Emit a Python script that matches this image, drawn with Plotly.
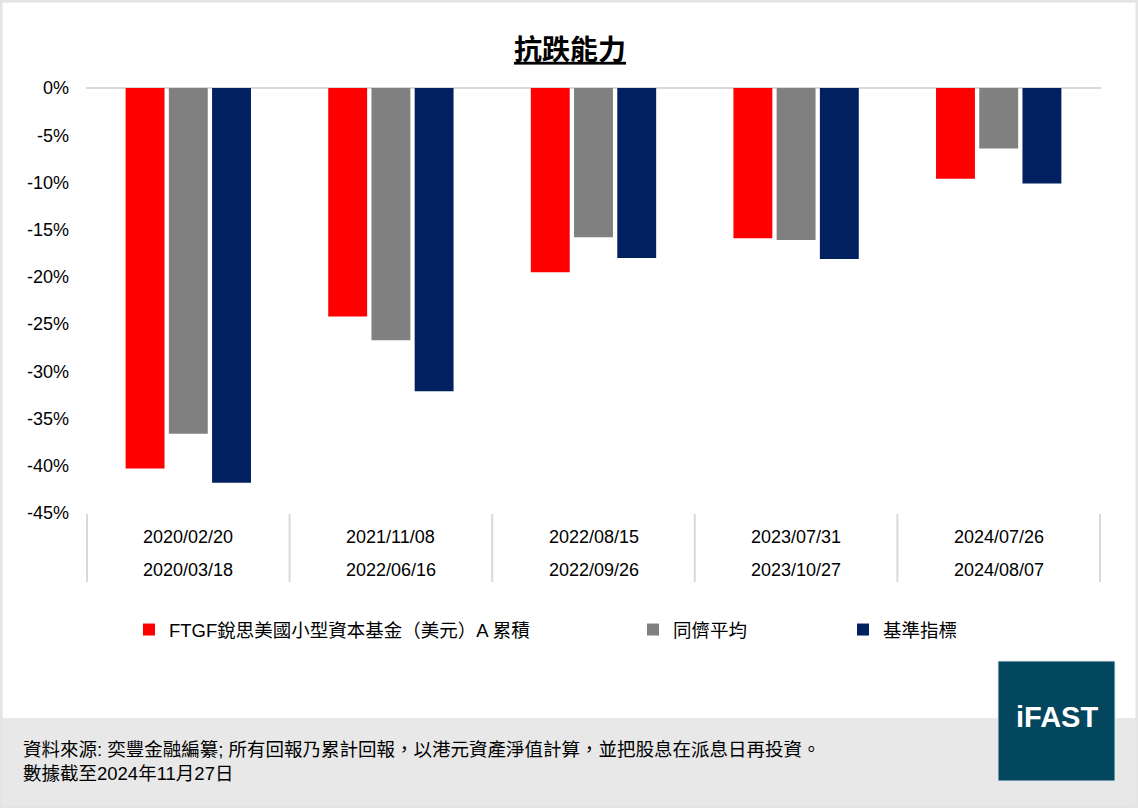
import plotly.graph_objects as go

# ---- data ----
start_dates = ["2020/02/20", "2021/11/08", "2022/08/15", "2023/07/31", "2024/07/26"]
end_dates = ["2020/03/18", "2022/06/16", "2022/09/26", "2023/10/27", "2024/08/07"]
fund_name = "FTGF銳思美國小型資本基金（美元）A 累積"
peer_name = "同儕平均"
bench_name = "基準指標"
fund_vals = [-40.3, -24.2, -19.5, -15.9, -9.6]
peer_vals = [-36.6, -26.7, -15.8, -16.1, -6.4]
bench_vals = [-41.8, -32.1, -18.0, -18.1, -10.1]
y_ticks = [0, -5, -10, -15, -20, -25, -30, -35, -40, -45]
y_tick_labels = ["0%", "-5%", "-10%", "-15%", "-20%", "-25%", "-30%", "-35%", "-40%", "-45%"]
title_text = "抗跌能力"
footer_line1 = "資料來源: 奕豐金融編纂; 所有回報乃累計回報，以港元資產淨值計算，並把股息在派息日再投資。"
footer_line2 = "數據截至2024年11月27日"
logo_text = "iFAST"

# ---- layout geometry (pixels) ----
W_FIG, H_FIG = 1138, 808
L, R, T, B = 86, 1101, 88, 513
PW, PH = R - L, B - T


def xp(px):
    return (px - L) / PW


def yp(py):
    return (B - py) / PH


FONT = "Liberation Sans, Arial, Noto Sans CJK TC, sans-serif"

fig = go.Figure()
fig.add_trace(go.Bar(x=start_dates, y=fund_vals, name=fund_name,
                     marker=dict(color="#ff0000", line=dict(width=0)), legend="legend"))
fig.add_trace(go.Bar(x=start_dates, y=peer_vals, name=peer_name,
                     marker=dict(color="#808080", line=dict(width=0)), legend="legend2"))
fig.add_trace(go.Bar(x=start_dates, y=bench_vals, name=bench_name,
                     marker=dict(color="#002060", line=dict(width=0)), legend="legend3"))

shapes = []
# category separators below the plot
for i in range(len(start_dates) + 1):
    shapes.append(dict(type="line", xref="x", yref="paper", x0=i - 0.5, x1=i - 0.5,
                       y0=yp(514), y1=yp(582), line=dict(color="#d9d9d9", width=2), layer="below"))
# footer band
shapes.append(dict(type="rect", xref="paper", yref="paper", x0=xp(0), x1=xp(W_FIG),
                   y0=yp(718), y1=yp(H_FIG), fillcolor="#e8e8e8", line=dict(width=0), layer="below"))
# logo box
shapes.append(dict(type="rect", xref="paper", yref="paper", x0=xp(998), x1=xp(1115),
                   y0=yp(661), y1=yp(781), fillcolor="#02475e", line=dict(color="#dfe6ea", width=1)))
# outer frame
shapes.append(dict(type="rect", xref="paper", yref="paper", x0=xp(1), x1=xp(W_FIG - 1),
                   y0=yp(1), y1=yp(H_FIG - 1), line=dict(color="#e4e4e4", width=3)))

annotations = []
for s, e in zip(start_dates, end_dates):
    annotations.append(dict(x=s, xref="x", y=yp(536.5), yref="paper", text=s, showarrow=False,
                            xanchor="center", yanchor="middle", font=dict(size=18, color="#000000", family=FONT)))
    annotations.append(dict(x=s, xref="x", y=yp(570), yref="paper", text=e, showarrow=False,
                            xanchor="center", yanchor="middle", font=dict(size=18, color="#000000", family=FONT)))
annotations.append(dict(x=xp(21), xref="paper", y=yp(749), yref="paper", text=footer_line1, showarrow=False,
                        xanchor="left", yanchor="middle", font=dict(size=18.5, color="#000000", family=FONT)))
annotations.append(dict(x=xp(21), xref="paper", y=yp(773), yref="paper", text=footer_line2, showarrow=False,
                        xanchor="left", yanchor="middle", font=dict(size=18.5, color="#000000", family=FONT)))
annotations.append(dict(x=xp(1057), xref="paper", y=yp(717), yref="paper", text="<b>" + logo_text + "</b>",
                        showarrow=False, xanchor="center", yanchor="middle",
                        font=dict(size=29, color="#ffffff", family=FONT)))

legend_common = dict(orientation="h", yref="paper", y=yp(630), yanchor="middle", xanchor="left",
                     bgcolor="rgba(0,0,0,0)", borderwidth=0,
                     font=dict(size=18.5, color="#000000", family=FONT))

fig.update_layout(
    width=W_FIG, height=H_FIG,
    margin=dict(l=L, r=W_FIG - R, t=T, b=H_FIG - B, autoexpand=False),
    paper_bgcolor="#ffffff", plot_bgcolor="#ffffff",
    barmode="group", bargap=0.36, bargroupgap=0.1,
    title=dict(text="<b><u>" + title_text + "</u></b>", x=570 / W_FIG, xref="container", xanchor="center",
               y=1 - 50 / H_FIG, yref="container", yanchor="middle",
               font=dict(size=28, color="#000000", family=FONT)),
    xaxis=dict(type="category", showticklabels=False, showgrid=False, zeroline=False, showline=False,
               ticks=""),
    yaxis=dict(range=[-45, 0], tickmode="array", tickvals=y_ticks, ticktext=y_tick_labels,
               showgrid=False, zeroline=True,
               zerolinecolor="#d9d9d9", zerolinewidth=2, showline=False, ticks="",
               ticklabelstandoff=16,
               tickfont=dict(size=18, color="#000000", family=FONT)),
    legend=dict(x=xp(129), **legend_common),
    legend2=dict(x=xp(633), **legend_common),
    legend3=dict(x=xp(843), **legend_common),
    shapes=shapes,
    annotations=annotations,
    showlegend=True,
)

fig.write_html("out.html", config={"displayModeBar": False},
               post_script="document.body.style.margin='0';document.body.style.padding='0';")
